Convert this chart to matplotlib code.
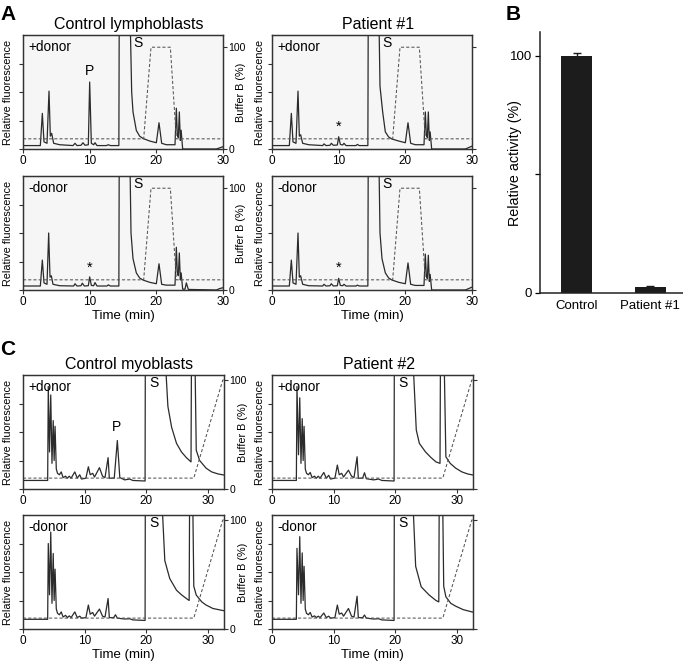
import numpy as np
import matplotlib
matplotlib.use("Agg")
import matplotlib.pyplot as plt

plt.rcParams['font.family'] = ['Liberation Sans', 'DejaVu Sans']

# ---- panel A traces: (time min, relative fluorescence) ----
lympho_ctrl_plus = [(0, 0.12), (2.6, 0.12), (2.9, 1.25), (3.15, 0.25), (3.6, 0.2), (3.9, 2.03), (4.1, 0.45),
                    (4.3, 0.55), (4.6, 0.2), (5.5, 0.15), (7.5, 0.12), (7.8, 0.2), (8.1, 0.12), (8.7, 0.13),
                    (9.0, 0.22), (9.3, 0.13), (9.8, 0.15), (10.0, 2.35), (10.25, 0.2), (10.6, 0.15), (10.8, 0.22),
                    (11.1, 0.12), (12.5, 0.12), (12.8, 0.15), (13.1, 0.12), (14.38, 0.12), (14.45, 6), (15.95, 6),
                    (16.3, 2.0), (16.5, 1.3), (17.0, 0.65), (17.5, 0.45), (18.0, 0.37), (19.0, 0.28), (20.0, 0.22),
                    (20.4, 0.92), (20.8, 0.2), (21.5, 0.15), (22.8, 0.15), (23.0, 1.43), (23.15, 0.5), (23.3, 0.4),
                    (23.45, 1.3), (23.6, 0.3), (23.72, 0.66), (23.95, 0.0), (29.0, 0.0), (29.5, 0.04), (30.0, 0.08)]
lympho_ctrl_minus = [(0, 0.14), (2.6, 0.14), (2.9, 1.05), (3.15, 0.25), (3.6, 0.2), (3.85, 2.0), (4.05, 0.45),
                     (4.25, 0.5), (4.5, 0.2), (5.5, 0.15), (7.6, 0.14), (7.8, 0.22), (8.1, 0.14), (8.7, 0.15),
                     (8.9, 0.24), (9.2, 0.14), (9.8, 0.15), (10.0, 0.46), (10.25, 0.16), (10.6, 0.15), (10.8, 0.26),
                     (11.1, 0.14), (12.6, 0.14), (12.8, 0.18), (13.1, 0.14), (14.38, 0.14), (14.45, 6), (15.95, 6),
                     (16.2, 2.0), (16.5, 1.1), (17.0, 0.6), (17.5, 0.42), (18.0, 0.35), (19.0, 0.27), (20.0, 0.22),
                     (20.4, 0.92), (20.8, 0.2), (21.5, 0.17), (22.8, 0.17), (23.0, 1.5), (23.15, 0.6), (23.3, 0.5),
                     (23.45, 1.3), (23.6, 0.35), (23.72, 0.6), (23.95, 0.03), (24.3, 0.03), (24.5, 0.25),
                     (24.8, 0.02), (29.0, 0.0), (29.5, 0.05), (30.0, 0.08)]
lympho_pt1_plus = [(0, 0.12), (2.6, 0.12), (2.9, 1.25), (3.15, 0.25), (3.6, 0.2), (3.9, 2.03), (4.1, 0.45),
                   (4.3, 0.5), (4.6, 0.2), (5.5, 0.15), (7.6, 0.12), (7.8, 0.18), (8.1, 0.12), (8.7, 0.13),
                   (8.9, 0.2), (9.2, 0.13), (9.8, 0.14), (10.0, 0.43), (10.25, 0.16), (10.6, 0.14), (10.8, 0.2),
                   (11.1, 0.12), (12.6, 0.12), (12.8, 0.16), (13.1, 0.12), (14.38, 0.12), (14.45, 6), (15.95, 6),
                   (16.2, 2.2), (16.6, 1.3), (17.0, 0.6), (17.5, 0.42), (18.0, 0.35), (19.0, 0.28), (20.0, 0.22),
                   (20.4, 0.92), (20.8, 0.2), (21.5, 0.15), (22.8, 0.15), (23.0, 1.3), (23.15, 0.5), (23.3, 0.4),
                   (23.45, 1.3), (23.6, 0.3), (23.72, 0.6), (23.95, 0.0), (29.0, 0.0), (29.5, 0.05), (30.0, 0.1)]
lympho_pt1_minus = [(0, 0.14), (2.6, 0.14), (2.9, 1.05), (3.15, 0.25), (3.6, 0.2), (3.9, 2.0), (4.1, 0.45),
                    (4.3, 0.5), (4.6, 0.2), (5.5, 0.15), (7.6, 0.14), (7.8, 0.2), (8.1, 0.14), (8.7, 0.15),
                    (8.9, 0.22), (9.2, 0.14), (9.8, 0.15), (10.0, 0.41), (10.25, 0.16), (10.6, 0.15), (10.8, 0.2),
                    (11.1, 0.14), (12.6, 0.14), (12.8, 0.17), (13.1, 0.14), (14.38, 0.14), (14.45, 6), (15.95, 6),
                    (16.2, 2.0), (16.5, 1.1), (17.0, 0.6), (17.5, 0.42), (18.0, 0.35), (19.0, 0.27), (20.0, 0.22),
                    (20.4, 0.95), (20.8, 0.2), (21.5, 0.16), (22.8, 0.16), (23.0, 1.26), (23.15, 0.5), (23.3, 0.4),
                    (23.45, 1.22), (23.6, 0.3), (23.72, 0.55), (23.95, 0.0), (29.0, 0.0), (29.5, 0.05), (30.0, 0.1)]
buffer_lympho = [(0, 10), (18.1, 10), (19.2, 100), (22.1, 100), (23.0, 10), (30, 10)]

# ---- panel B ----
activity_groups = ["Control", "Patient #1"]
activity_values = [100, 2.5]
activity_err = [1.2, 0.5]

# ---- panel C traces ----
myo_ctrl_plus = [(0, 0.3), (4.0, 0.3), (4.1, 3.6), (4.3, 1.3), (4.5, 3.3), (4.7, 0.9), (4.9, 2.4), (5.05, 1.0),
                 (5.2, 2.2), (5.4, 0.7), (5.6, 0.55), (5.9, 0.5), (6.2, 0.6), (6.5, 0.4), (6.9, 0.45), (7.2, 0.38),
                 (7.5, 0.45), (7.8, 0.38), (8.4, 0.6), (8.8, 0.38), (9.2, 0.5), (9.5, 0.35), (10.2, 0.38),
                 (10.6, 0.78), (10.9, 0.5), (11.3, 0.55), (11.6, 0.42), (12.4, 0.75), (12.9, 0.45), (13.3, 0.4),
                 (13.8, 1.1), (14.0, 0.38), (14.8, 0.38), (15.3, 1.7), (15.7, 0.4), (16.5, 0.32), (17.3, 0.35),
                 (17.8, 0.3), (19.8, 0.28), (19.85, 6), (22.7, 6), (23.5, 2.9), (24.1, 2.17), (24.9, 1.6),
                 (25.7, 1.3), (26.5, 1.1), (27.25, 0.95), (27.35, 6), (27.8, 6), (28.1, 1.36), (28.65, 1.0),
                 (29.7, 0.73), (30.6, 0.6), (31.6, 0.53), (32.6, 0.49)]
myo_ctrl_minus = [(0, 0.34), (4.0, 0.34), (4.1, 3.0), (4.3, 1.2), (4.5, 3.4), (4.7, 0.9), (4.9, 2.65), (5.05, 1.0),
                  (5.2, 2.1), (5.4, 0.7), (5.6, 0.55), (5.9, 0.5), (6.2, 0.6), (6.5, 0.42), (6.9, 0.48), (7.2, 0.4),
                  (7.5, 0.46), (7.8, 0.4), (8.4, 0.6), (8.8, 0.4), (9.2, 0.45), (9.5, 0.38), (10.2, 0.4),
                  (10.6, 0.84), (10.9, 0.52), (11.3, 0.58), (11.6, 0.45), (12.4, 0.7), (12.9, 0.45), (13.3, 0.42),
                  (13.8, 1.07), (14.0, 0.4), (14.7, 0.4), (15.0, 0.5), (15.3, 0.38), (16.5, 0.35), (17.3, 0.36),
                  (17.8, 0.32), (19.8, 0.3), (19.85, 6), (22.2, 6), (23.0, 2.4), (23.8, 1.77), (24.9, 1.36),
                  (25.7, 1.2), (26.5, 1.07), (26.95, 1.0), (27.05, 6), (27.45, 6), (27.7, 1.5), (28.1, 1.19),
                  (29.0, 0.95), (29.7, 0.84), (30.8, 0.72), (32.6, 0.64)]
myo_pt2_plus = [(0, 0.3), (3.95, 0.3), (4.05, 3.6), (4.3, 1.2), (4.5, 3.2), (4.7, 0.9), (4.9, 2.47), (5.05, 1.0),
                (5.2, 2.2), (5.4, 0.7), (5.6, 0.55), (5.9, 0.5), (6.2, 0.58), (6.5, 0.4), (6.9, 0.45), (7.2, 0.38),
                (7.5, 0.45), (7.8, 0.38), (8.4, 0.58), (8.8, 0.38), (9.2, 0.48), (9.5, 0.35), (10.2, 0.38),
                (10.6, 0.84), (10.9, 0.5), (11.3, 0.55), (11.6, 0.42), (12.4, 0.66), (12.9, 0.45), (13.3, 0.4),
                (13.8, 1.13), (14.0, 0.38), (14.7, 0.38), (15.0, 0.57), (15.3, 0.36), (16.5, 0.32), (17.3, 0.35),
                (17.8, 0.3), (19.8, 0.28), (19.85, 6), (22.55, 6), (23.4, 2.07), (23.9, 1.6), (24.9, 1.3),
                (25.8, 1.1), (26.6, 0.95), (27.25, 0.9), (27.35, 6), (27.8, 6), (28.2, 1.13), (28.9, 0.9),
                (29.8, 0.73), (30.8, 0.6), (31.7, 0.53), (32.6, 0.49)]
myo_pt2_minus = [(0, 0.34), (3.95, 0.34), (4.05, 2.83), (4.3, 1.2), (4.5, 3.24), (4.7, 0.9), (4.9, 2.67),
                 (5.05, 1.0), (5.2, 2.2), (5.4, 0.7), (5.6, 0.55), (5.9, 0.5), (6.2, 0.58), (6.5, 0.42),
                 (6.9, 0.46), (7.2, 0.4), (7.5, 0.45), (7.8, 0.4), (8.4, 0.56), (8.8, 0.4), (9.2, 0.45),
                 (9.5, 0.38), (10.2, 0.4), (10.6, 0.84), (10.9, 0.52), (11.3, 0.56), (11.6, 0.45), (12.4, 0.72),
                 (12.9, 0.45), (13.3, 0.42), (13.8, 1.15), (14.0, 0.4), (14.7, 0.4), (15.0, 0.49), (15.3, 0.38),
                 (16.5, 0.35), (17.3, 0.36), (17.8, 0.32), (19.8, 0.3), (19.85, 6), (22.55, 6), (23.3, 2.2),
                 (24.2, 1.48), (25.5, 1.19), (26.6, 1.0), (27.05, 0.95), (27.15, 6), (27.6, 6), (27.85, 1.5),
                 (28.2, 1.13), (29.0, 0.9), (29.8, 0.8), (31.0, 0.68), (32.6, 0.59)]
buffer_myo = [(0, 10), (27.7, 10), (32.4, 100), (32.6, 100)]

line_col = '#2b2b2b'
spine_col = '#333333'


def chrom(ax, trace, buffer, tag, xmax, bmax, face, left_x, right_label, xlabel):
    ax.set_facecolor(face)
    t, v = zip(*trace)
    ax.plot(t, v, color=line_col, lw=0.9, zorder=3)
    ax.set_xlim(0, xmax)
    ax.set_ylim(0, 4)
    ax.set_xticks([0, 10, 20, 30])
    ax.set_yticks([0, 1, 2, 3])
    ax.set_yticklabels([])
    ax.tick_params(labelsize=8.5, length=3, width=0.8, color=spine_col, pad=1.5)
    for s in ax.spines.values():
        s.set_color(spine_col)
        s.set_linewidth(0.9)
    ax.set_ylabel("Relative fluorescence", fontsize=7.8)
    ax.yaxis.set_label_coords(left_x, 0.5)
    if xlabel:
        ax.set_xlabel("Time (min)", fontsize=9.5, labelpad=1)
    ax.text(0.025, 0.96, tag, transform=ax.transAxes, fontsize=9.8, va='top', ha='left')
    ax2 = ax.twinx()
    bt, bv = zip(*buffer)
    ax2.plot(bt, bv, color='#555555', lw=0.75, ls=(0, (3, 2)))
    ax2.set_ylim(0, bmax)
    ax2.set_yticks([0, 100])
    ax2.tick_params(labelsize=7.5, length=3, width=0.8, color=spine_col, pad=1)
    if right_label:
        ax2.set_ylabel("Buffer B (%)", fontsize=7.8)
        ax2.yaxis.set_label_coords(1 + 13.5 / (ax.get_position().width * 683), 0.5)
    else:
        ax2.set_yticklabels([])
    for s in ax2.spines.values():
        s.set_color(spine_col)
        s.set_linewidth(0.9)
    return ax2


fig = plt.figure(figsize=(6.83, 6.62), dpi=100)

wA = 200 / 683
wC = 201 / 683
xl = 23 / 683
xr = 272 / 683
h = 114 / 662

a1 = fig.add_axes([xl, 1 - 149 / 662, wA, h])
a2 = fig.add_axes([xl, 1 - 290 / 662, wA, h])
a3 = fig.add_axes([xr, 1 - 149 / 662, wA, h])
a4 = fig.add_axes([xr, 1 - 290 / 662, wA, h])
chrom(a1, lympho_ctrl_plus, buffer_lympho, "+donor", 30, 112, '#f6f6f6', -0.05, True, False)
chrom(a2, lympho_ctrl_minus, buffer_lympho, "-donor", 30, 112, '#f6f6f6', -0.05, True, True)
chrom(a3, lympho_pt1_plus, buffer_lympho, "+donor", 30, 112, '#f6f6f6', -0.035, False, False)
chrom(a4, lympho_pt1_minus, buffer_lympho, "-donor", 30, 112, '#f6f6f6', -0.035, False, True)
a1.set_title("Control lymphoblasts", fontsize=11.5, pad=4, x=0.53)
a3.set_title("Patient #1", fontsize=11.5, pad=4, x=0.53)
for ax in (a1, a2, a3, a4):
    ax.text(17.3, 3.72, "S", fontsize=10, ha='center', va='center')
a1.text(10, 2.72, "P", fontsize=10, ha='center', va='center')
for ax in (a2, a3, a4):
    ax.text(10, 0.78, "*", fontsize=10.5, ha='center', va='center')

c1 = fig.add_axes([xl, 1 - 489 / 662, wC, h])
c2 = fig.add_axes([xl, 1 - 629 / 662, wC, h])
c3 = fig.add_axes([xr, 1 - 489 / 662, wC, h])
c4 = fig.add_axes([xr, 1 - 629 / 662, wC, h])
chrom(c1, myo_ctrl_plus, buffer_myo, "+donor", 32.6, 104.6, 'white', -0.05, True, False)
chrom(c2, myo_ctrl_minus, buffer_myo, "-donor", 32.6, 104.6, 'white', -0.05, True, True)
chrom(c3, myo_pt2_plus, buffer_myo, "+donor", 32.6, 104.6, 'white', -0.035, False, False)
chrom(c4, myo_pt2_minus, buffer_myo, "-donor", 32.6, 104.6, 'white', -0.035, False, True)
c1.set_title("Control myoblasts", fontsize=11.5, pad=4, x=0.53)
c3.set_title("Patient #2", fontsize=11.5, pad=4, x=0.53)
for ax in (c1, c2, c3, c4):
    ax.text(21.2, 3.72, "S", fontsize=10, ha='center', va='center')
c1.text(15.2, 2.16, "P", fontsize=10, ha='center', va='center')

# panel B
b = fig.add_axes([540 / 683, 1 - 293 / 662, 0.215, 261 / 662])
xpos = np.arange(len(activity_groups))
b.bar(xpos, activity_values, width=0.42, color='#1c1c1c', yerr=activity_err,
      error_kw=dict(ecolor='#1c1c1c', elinewidth=1.0, capsize=3, capthick=1.0))
b.set_xlim(-0.5, 1.5)
b.set_ylim(0, 110)
b.set_yticks([0, 50, 100])
b.set_yticklabels(["0", "", "100"])
b.set_xticks(xpos)
b.set_xticklabels(activity_groups)
b.tick_params(axis='x', length=0, labelsize=9.5, pad=5)
b.tick_params(axis='y', length=3.5, width=0.9, labelsize=9.5, pad=2)
b.spines['top'].set_visible(False)
b.spines['right'].set_visible(False)
for s in ('left', 'bottom'):
    b.spines[s].set_linewidth(1.1)
    b.spines[s].set_color('#222222')
b.set_ylabel("Relative activity (%)", fontsize=10.3)
b.yaxis.set_label_coords(-18 / 147, 0.5)

fig.text(0.0, 0.992, "A", fontsize=15, fontweight='bold', va='top', ha='left')
fig.text(506 / 683, 0.992, "B", fontsize=15, fontweight='bold', va='top', ha='left')
fig.text(0.0, 1 - 340 / 662, "C", fontsize=15, fontweight='bold', va='top', ha='left')

fig.savefig("out.png", dpi=100)
